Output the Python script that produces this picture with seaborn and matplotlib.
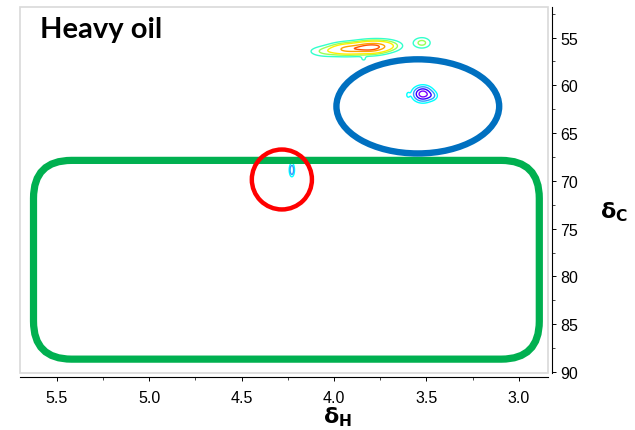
import numpy as np
import pandas as pd
import seaborn as sns
import matplotlib
matplotlib.use("Agg")
import matplotlib.pyplot as plt
from matplotlib.patches import Ellipse, FancyBboxPatch, Rectangle

# ---- data ----
title = "Heavy oil"
x_ticks = [5.5, 5.0, 4.5, 4.0, 3.5, 3.0]
y_ticks = [55, 60, 65, 70, 75, 80, 85, 90]
x_range = (5.698, 2.843)
y_range = (90.1, 51.8)

# cross peaks: 1H shift, 13C shift, amplitude (sign = phase), widths
peak_h = [3.81, 3.93, 3.73, 4.05, 3.525, 3.84, 4.03, 3.52, 3.47, 3.60, 4.228]
peak_c = [56.05, 56.2, 55.85, 56.45, 55.55, 57.25, 60.35, 60.9, 61.1, 61.0, 68.85]
peak_amp = [1.0, 0.8, 0.45, 0.25, 0.3, 0.12, 0.12, -1.0, -0.2, -0.12, -0.5]
peak_wh = [0.06, 0.06, 0.06, 0.06, 0.033, 0.012, 0.008, 0.03, 0.02, 0.008, 0.008]
peak_wc = [0.42, 0.4, 0.4, 0.38, 0.4, 0.2, 0.35, 0.45, 0.3, 0.25, 0.4]

pos_levels = [0.12, 0.25, 0.4, 0.8, 1.05]
pos_colors = ["#33ffcc", "#99ff55", "#ffee00", "#ffa000", "#ff5000"]
neg_levels = [0.1, 0.25, 0.5, 0.8]
neg_colors = ["#00ffff", "#3399ff", "#3300ff", "#7a00ff"]

# highlighted regions (center / extent in ppm)
green_box = dict(h0=2.890, h1=5.625, c0=67.85, c1=88.65)
blue_ell = dict(h=3.547, c=62.2, wh=0.88, wc=9.85)
red_circ = dict(h=4.282, c=69.85, wh=0.325, wc=6.27)

# ---- figure ----
sns.set_style("white")
plt.rcParams["font.family"] = ["Liberation Sans", "DejaVu Sans"]

fig = plt.figure(figsize=(6.35, 4.31), dpi=100)
ax = fig.add_axes([20 / 635, 1 - 374 / 431, 528 / 635, 366 / 431])

hh = np.linspace(2.8, 5.75, 1400)
cc = np.linspace(51.5, 90.5, 900)
H, C = np.meshgrid(hh, cc)
Z = np.zeros_like(H)
for h, c, a, wh, wc in zip(peak_h, peak_c, peak_amp, peak_wh, peak_wc):
    Z += a * np.exp(-0.5 * (((H - h) / wh) ** 2 + ((C - c) / wc) ** 2))

ax.contour(H, C, Z, levels=pos_levels, colors=pos_colors, linewidths=1.0)
ax.contour(H, C, -Z, levels=neg_levels, colors=neg_colors, linewidths=1.0)

# ticks first, limits afterwards (so ticks do not widen the view)
ax.yaxis.tick_right()
ax.set_xticks(x_ticks)
ax.set_xticklabels([f"{v:.1f}" for v in x_ticks])
ax.set_yticks(y_ticks)
ax.set_xticks(np.arange(3.0, 5.6, 0.25), minor=True)
ax.set_yticks(np.arange(52.5, 90.1, 2.5), minor=True)
ax.set_xlim(*x_range)
ax.set_ylim(*y_range)

# aspect in data units (y per x) for round corners
px_per_h = 528 / abs(x_range[0] - x_range[1])
px_per_c = 366 / abs(y_range[0] - y_range[1])
aspect = px_per_h / px_per_c
r = 38 / px_per_h
gb = FancyBboxPatch((green_box["h0"], green_box["c0"]),
                    green_box["h1"] - green_box["h0"], green_box["c1"] - green_box["c0"],
                    boxstyle=f"round,pad=0,rounding_size={r}", mutation_aspect=aspect,
                    fill=False, ec="#00b050", lw=5.2, zorder=3)
ax.add_patch(gb)
ax.add_patch(Ellipse((blue_ell["h"], blue_ell["c"]), blue_ell["wh"], blue_ell["wc"],
                     fill=False, ec="#0070c0", lw=4.6, zorder=3))
ax.add_patch(Ellipse((red_circ["h"], red_circ["c"]), red_circ["wh"], red_circ["wc"],
                     fill=False, ec="#ff0000", lw=3.2, zorder=3))

# frame + axes
ax.add_patch(Rectangle((0, 0), 1, 1, transform=ax.transAxes, fill=False,
                       ec="#d9d9d9", lw=1.2, clip_on=False, zorder=5))
for s in ["top", "left"]:
    ax.spines[s].set_visible(False)
for s in ["bottom", "right"]:
    ax.spines[s].set_visible(True)
    ax.spines[s].set_color("black")
    ax.spines[s].set_linewidth(0.8)
    ax.spines[s].set_position(("outward", 3))
ax.tick_params(which="major", direction="out", length=3, width=0.7, labelsize=11.5,
               colors="black", pad=3, bottom=True, right=True, left=False)
ax.tick_params(which="minor", direction="out", length=2, width=0.6,
               bottom=True, right=True, left=False)
ax.tick_params(axis="x", pad=6)
ax.grid(False)

fig.text(40 / 635, 1 - 30 / 431, title, fontsize=21, fontweight="bold", color="black",
         family=["Lato", "DejaVu Sans"], ha="left", va="center")
fig.text(337 / 635, 1 - 405 / 431, r"$\mathbf{\delta_{H}}$", fontsize=16,
         color="black", ha="center", va="top")
fig.text(614 / 635, 1 - 212 / 431, r"$\mathbf{\delta_{C}}$", fontsize=16,
         color="black", ha="center", va="center")

fig.savefig("out.png", dpi=100)
